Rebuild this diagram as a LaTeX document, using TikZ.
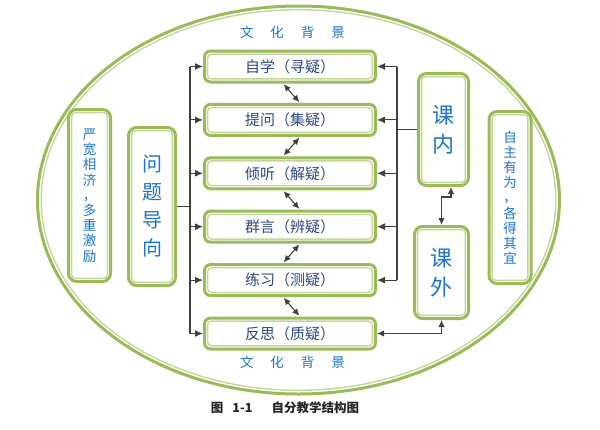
\documentclass[tikz,border=0pt]{standalone}
\usepackage{fontspec}
\setmainfont{Noto Sans CJK SC}
\usepackage{xcolor}
\usepackage{tikz}
\usetikzlibrary{shapes, arrows, arrows.meta}
\definecolor{leaf}{HTML}{9BBB59}
\definecolor{leaflight}{HTML}{C3D69B}
\definecolor{navy}{HTML}{2B4A7C}
\definecolor{sky}{HTML}{1C75CC}
\definecolor{ink}{HTML}{404040}

\begin{document}
\begin{tikzpicture}[x=1pt, y=-1pt,
			stage/.style={draw=leaf, line width=3pt, fill=white, rounded corners=6pt, minimum width=171pt, minimum height=31pt, text=navy, font=\fontsize{15}{17}\selectfont, node distance={53.4pt}},
			pillar/.style={draw=leaf, line width=3pt, fill=white, rounded corners=8pt, align=center, text=sky},
			motto/.style={pillar, minimum width=42pt, minimum height=172pt, font=\fontsize{13.5}{15.2}\selectfont},
			inner/.style={draw=leaflight, line width=1.4pt, rounded corners=4pt},
			trunk/.style={draw=ink, line width=1.1pt},
			link/.style={draw=ink, line width=1.1pt, -{Latex[length=8pt, width=7pt]}},
			pair/.style={draw=ink, line width=1.1pt, {Latex[length=7pt, width=6.5pt]}-{Latex[length=7pt, width=6.5pt]}},
			theme/.style={text=sky, font=\fontsize{13.5}{16}\selectfont}
			]
			\useasboundingbox (0,0) rectangle (600,429);
			\draw[draw=leaf, line width=3pt] (298.5,200) ellipse [x radius=261, y radius=194];
			\draw[inner] (298.5,200) ellipse [x radius=257.3, y radius=190.3];
			
			\node [stage](s1) at (290,66.5) {自学（寻疑）};
			\node [stage](s2) [below of=s1] {提问（集疑）};
			\node [stage](s3) [below of=s2] {倾听（解疑）};
			\node [stage](s4) [below of=s3] {群言（辨疑）};
			\node [stage](s5) [below of=s4] {练习（测疑）};
			\node [stage](s6) [below of=s5] {反思（质疑）};
			
			\node [pillar, minimum width=47pt, minimum height=158pt, font=\fontsize{20}{28}\selectfont](ask) at (152,206.5) {问\\题\\导\\向};
			\node [motto](rule) at (89.5,195.5) {严\\宽\\相\\济\\，\\多\\重\\激\\励};
			\node [motto](aim) at (510,197.5) {自\\主\\有\\为\\，\\各\\得\\其\\宜};
			\node [pillar, minimum width=50pt, minimum height=112pt, font=\fontsize{22}{29}\selectfont](inside) at (443.5,129.5) {课\\内};
			\node [pillar, minimum width=54pt, minimum height=92pt, font=\fontsize{22}{29}\selectfont](outside) at (441.5,272.5) {课\\外};
			
			\foreach \n in {s1,s2,s3,s4,s5,s6,ask,rule,aim,inside,outside}
				\draw[inner] ([shift={(4.6pt,-4.6pt)}]\n.north west) rectangle ([shift={(-4.6pt,4.6pt)}]\n.south east);
			
			\node [theme](toptheme) at (292.5,32) {文\kern17pt 化\kern17pt 背\kern17pt 景};
			\node [theme](bottheme) at (292.5,362) {文\kern17pt 化\kern17pt 背\kern17pt 景};
			\node [font=\bfseries\fontsize{12.5}{15}\selectfont, text=black!85](caption) at (285,408) {图\hspace{9pt}1-1\hspace{19pt}自分教学结构图};
			
			\coordinate (lhub) at (190,206.5);
			\coordinate (rhub) at (397,129.5);
			
			\draw[trunk] (ask) -- (lhub);
			\draw[trunk] (lhub |- s1) -- (lhub |- s6);
			\foreach \i in {1,...,6}
				\draw[link] (lhub |- s\i) -- (s\i);
			
			\draw[trunk] (inside) -- (rhub);
			\draw[trunk] (rhub |- s1) -- (rhub |- s5);
			\foreach \i in {1,...,5}
				\draw[link] (rhub |- s\i) -- (s\i);
			
			\draw[pair] (s6) -| (outside);
			\draw[pair] ([xshift=7.5pt]inside.south) -- ++(0,10) -| (outside);
			
			\draw[pair, shorten <=1pt, shorten >=1pt] ([xshift=-7pt]s1.south) -- ([xshift=10pt]s2.north);
			\draw[pair, shorten <=1pt, shorten >=1pt] ([xshift=10pt]s2.south) -- ([xshift=-7pt]s3.north);
			\draw[pair, shorten <=1pt, shorten >=1pt] ([xshift=-7pt]s3.south) -- ([xshift=10pt]s4.north);
			\draw[pair, shorten <=1pt, shorten >=1pt] ([xshift=10pt]s4.south) -- ([xshift=-7pt]s5.north);
			\draw[pair, shorten <=1pt, shorten >=1pt] ([xshift=-7pt]s5.south) -- ([xshift=10pt]s6.north);
		\end{tikzpicture}
\end{document}
